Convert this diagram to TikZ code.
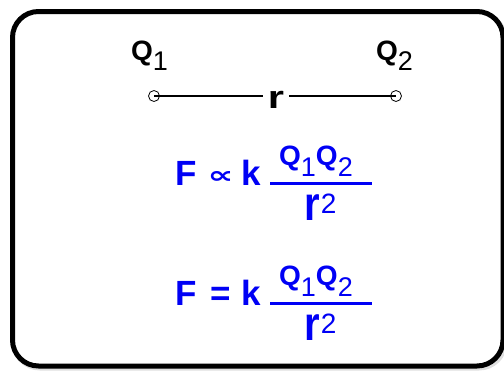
\documentclass[tikz,border=0pt]{standalone}
\usepackage{fontspec}
\setmainfont{Liberation Sans}
\newfontfamily\dvs{DejaVu Sans}
\definecolor{eqblue}{RGB}{0,0,245}
\begin{document}
\begin{tikzpicture}[x=1pt,y=-1pt,
  lbl/.style={inner sep=0pt, anchor=base west, font=\fontsize{28}{30}\selectfont\bfseries},
  eqtxt/.style={inner sep=0pt, anchor=base west, text=eqblue, font=\fontsize{35}{40}\selectfont\bfseries},
  numtxt/.style={inner sep=0pt, anchor=base west, text=eqblue, font=\fontsize{28}{30}\selectfont\bfseries},
  dentxt/.style={inner sep=0pt, anchor=base west, text=eqblue, font=\fontsize{40}{42}\selectfont\bfseries},
  endpt/.style={circle, draw, line width=0.8pt, minimum size=11pt, inner sep=0pt},
  wire/.style={line width=1.5pt},
  fracbar/.style={line width=3pt, eqblue}]
\useasboundingbox (0,0) rectangle (504,370);
% frame
\draw[line width=5pt, gray!25, rounded corners=26pt] (14,13.5) rectangle (505,368);
\draw[line width=5pt, rounded corners=26pt, fill=white] (12.5,11.5) rectangle (503,366);
% charges
\node[lbl] (q1) at (131,60) {Q\raisebox{-10pt}{\fontsize{27}{30}\selectfont\mdseries 1}};
\node[lbl] (q2) at (376,60) {Q\raisebox{-10pt}{\fontsize{27}{30}\selectfont\mdseries 2}};
\node[endpt] (c1) at (154,96) {};
\node[endpt] (c2) at (396,96) {};
\node[inner xsep=5pt, inner ysep=0pt, anchor=base, font=\fontsize{32}{34}\selectfont\bfseries] (r) at (276,108) {\scalebox{1.3}[1]{r}};
\draw[wire] (c1.center) -- (c1.center -| r.west);
\draw[wire] (c2.center -| r.east) -- (c2.center);
% formula 1
\node[eqtxt] (f1) at (175.5,185) {F};
\node[inner sep=0pt, text=eqblue] (p1) at (220.5,177) {\resizebox{26pt}{12pt}{\dvs\bfseries ∝}};
\node[eqtxt] (k1) at (241,185) {k};
\draw[fracbar] (270,183.5) -- (372,183.5);
\node[numtxt] (n1) at (279,165) {Q\raisebox{-11pt}{\fontsize{27}{28}\selectfont\mdseries 1}Q\raisebox{-11pt}{\fontsize{27}{28}\selectfont\mdseries 2}};
\node[dentxt] (d1) at (304,220) {\scalebox{1}[1.2]{r}\hspace{1pt}\raisebox{7pt}{\fontsize{28}{30}\selectfont\mdseries 2}};
% formula 2
\node[eqtxt] (f2) at (175.5,305) {F};
\node[eqtxt] (e2) at (210.5,305) {=};
\node[eqtxt] (k2) at (241,305) {k};
\draw[fracbar] (270,303.5) -- (372,303.5);
\node[numtxt] (n2) at (279,285) {Q\raisebox{-11pt}{\fontsize{27}{28}\selectfont\mdseries 1}Q\raisebox{-11pt}{\fontsize{27}{28}\selectfont\mdseries 2}};
\node[dentxt] (d2) at (304,340) {\scalebox{1}[1.2]{r}\hspace{1pt}\raisebox{7pt}{\fontsize{28}{30}\selectfont\mdseries 2}};
\end{tikzpicture}
\end{document}
